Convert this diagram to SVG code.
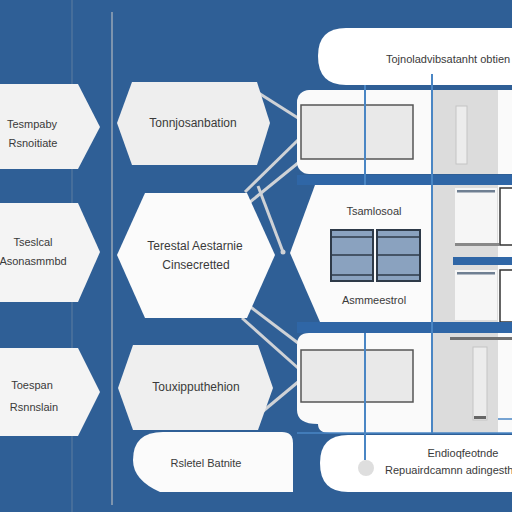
<svg xmlns="http://www.w3.org/2000/svg" width="512" height="512" viewBox="0 0 512 512">
<style>
.t{font-family:"Liberation Sans",Arial,sans-serif;font-size:11px;fill:#3a3a3a;text-anchor:middle}
.th{font-family:"Liberation Sans",Arial,sans-serif;font-size:12px;fill:#3a3a3a;text-anchor:middle}
.ts{font-family:"Liberation Sans",Arial,sans-serif;font-size:11px;fill:#3a3a3a}
.c{stroke:#cfd2d6;stroke-width:3;fill:none}
.vb{stroke:#4a86c4;stroke-width:2}
.box{fill:#8aa2bf;stroke:#2e3a48;stroke-width:2}
</style>
<rect width="512" height="512" fill="#2f5f96"/>
<line x1="72" y1="0" x2="72" y2="512" stroke="#4f739c" stroke-width="1.5"/>
<line x1="112" y1="12" x2="112" y2="505" stroke="#7d94ae" stroke-width="2"/>

<g id="left1"><polygon points="0,84 78,84 100,127 78,169 0,169" fill="#f2f2f2"/>
<text class="t" x="32" y="128">Tesmpaby</text><text class="t" x="33" y="147">Rsnoitiate</text></g>
<g id="left2"><polygon points="0,203 78,203 100,252 78,302 0,302" fill="#f4f4f4"/>
<text class="t" x="33" y="246">Tseslcal</text><text class="t" x="33" y="265">Asonasmmbd</text></g>
<g id="left3"><polygon points="0,348 78,348 100,392 78,436 0,436" fill="#f4f4f4"/>
<text class="t" x="32" y="389">Toespan</text><text class="t" x="34" y="411">Rsnnslain</text></g>

<g id="connectors">
<line class="c" x1="257" y1="92" x2="298" y2="118"/>
<line class="c" x1="245" y1="192" x2="298" y2="140"/>
<line class="c" x1="250" y1="202" x2="298" y2="163"/>
<line class="c" x1="258" y1="186" x2="283" y2="252"/>
<circle cx="283" cy="252" r="2.5" fill="#cfd2d6"/>
<line class="c" x1="248" y1="305" x2="298" y2="343"/>
<line class="c" x1="242" y1="318" x2="298" y2="368"/>
<line class="c" x1="262" y1="412" x2="298" y2="382"/>
</g>

<g id="hex1"><polygon points="117,123 132,82 257,82 270,123 257,165 132,165" fill="#eeeeee"/>
<text class="th" x="193" y="127">Tonnjosanbation</text></g>
<g id="hex2"><polygon points="117,255 145,193 247,193 275,255 247,318 145,318" fill="#fbfbfb"/>
<text class="th" x="195" y="250">Terestal Aestarnie</text><text class="th" x="196" y="269">Cinsecretted</text></g>
<g id="hex3"><polygon points="118,388 133,345 258,345 273,388 258,430 133,430" fill="#efefef"/>
<text class="th" x="196" y="391">Touxipputhehion</text></g>
<g id="rounded1"><path d="M163,432 H282 Q293,432 293,443 V492 H160 Q133,480 133,460 Q133,432 163,432 Z" fill="#fbfbfb"/>
<text class="t" x="206" y="467">Rsletel Batnite</text></g>

<g id="toppill"><path d="M346,28 H512 V85 H346 Q318,85 318,56 Q318,28 346,28 Z" fill="#ffffff"/>
<text class="ts" x="386" y="63">Tojnoladvibsatanht obtien</text></g>

<g id="panel1">
<rect x="297" y="90" width="230" height="84" rx="12" fill="#fafafa"/>
<rect x="432" y="90" width="66" height="84" fill="#dcdcdc"/>
<rect x="301" y="105" width="112" height="54" fill="#e9e9e9" stroke="#555" stroke-width="1.5"/>
<rect x="456" y="106" width="11" height="58" fill="#ececec" stroke="#c4c4c4" stroke-width="1"/>
</g>
<line class="vb" x1="365" y1="85" x2="365" y2="185"/>
<line class="vb" x1="365" y1="322" x2="365" y2="460"/>
<rect x="297" y="175" width="215" height="10" fill="#2f66a6"/>
<g id="panel2">
<polygon points="315,185 512,185 512,322 320,322 290,253" fill="#fbfbfb"/>
<rect x="432" y="185" width="66" height="137" fill="#dcdcdc"/>
<rect x="455" y="188" width="42" height="57" fill="#f6f6f6"/>
<rect x="457" y="190" width="38" height="2.5" fill="#6f7f92"/>
<rect x="455" y="243" width="44" height="3" fill="#888"/>
<rect x="500" y="188" width="14" height="57" fill="#fff" stroke="#333" stroke-width="1.5"/>
<rect x="453" y="257" width="59" height="8" fill="#2f66a6"/>
<rect x="455" y="270" width="42" height="50" fill="#f6f6f6"/>
<rect x="457" y="272" width="38" height="2.5" fill="#6f7f92"/>
<rect x="500" y="270" width="14" height="52" fill="#fff" stroke="#333" stroke-width="1.5"/>
<text class="t" x="374" y="215">Tsamlosoal</text>
<rect class="box" x="331" y="230" width="42" height="51"/>
<line x1="331" y1="237" x2="373" y2="237" stroke="#2e3a48" stroke-width="1.5"/>
<line x1="331" y1="255" x2="373" y2="255" stroke="#2e3a48" stroke-width="1.5"/>
<line x1="331" y1="275" x2="373" y2="275" stroke="#2e3a48" stroke-width="1.5"/>
<rect class="box" x="377" y="230" width="43" height="51"/>
<line x1="377" y1="237" x2="420" y2="237" stroke="#2e3a48" stroke-width="1.5"/>
<line x1="377" y1="255" x2="420" y2="255" stroke="#2e3a48" stroke-width="1.5"/>
<line x1="377" y1="275" x2="420" y2="275" stroke="#2e3a48" stroke-width="1.5"/>
<text class="t" x="374" y="304">Asmmeestrol</text>
</g>
<rect x="297" y="322" width="215" height="11" fill="#2f66a6"/>
<g id="panel3">
<path d="M309,333 H512 V433 H330 Q318,433 318,424 Q297,424 297,410 V345 Q297,333 309,333 Z" fill="#fafafa"/>
<rect x="432" y="333" width="66" height="100" fill="#dcdcdc"/>
<rect x="450" y="337" width="62" height="3" fill="#707070"/>
<rect x="301" y="350" width="112" height="52" fill="#e9e9e9" stroke="#555" stroke-width="1.5"/>
<rect x="473" y="347" width="14" height="73" fill="#ececec" stroke="#c4c4c4" stroke-width="1"/>
<rect x="474" y="416" width="12" height="3" fill="#666"/>
<line x1="498" y1="419" x2="512" y2="419" stroke="#4a86c4" stroke-width="1.5"/>
<line x1="297" y1="433" x2="512" y2="433" stroke="#4a86c4" stroke-width="1.5"/>
</g>
<g id="bottompill"><path d="M348,435 H512 V492 H348 Q320,492 320,463 Q320,435 348,435 Z" fill="#ffffff"/>
<text class="t" x="463" y="457">Endioqfeotnde</text>
<text class="ts" x="385" y="474">Repuairdcamnn adingesth</text></g>

<g id="vlines">
<line class="vb" x1="365" y1="85" x2="365" y2="185"/>
<line class="vb" x1="365" y1="333" x2="365" y2="460"/>
<line class="vb" x1="432" y1="74" x2="432" y2="433"/>
<circle cx="366" cy="468" r="8" fill="#dedede"/>
</g>
</svg>
